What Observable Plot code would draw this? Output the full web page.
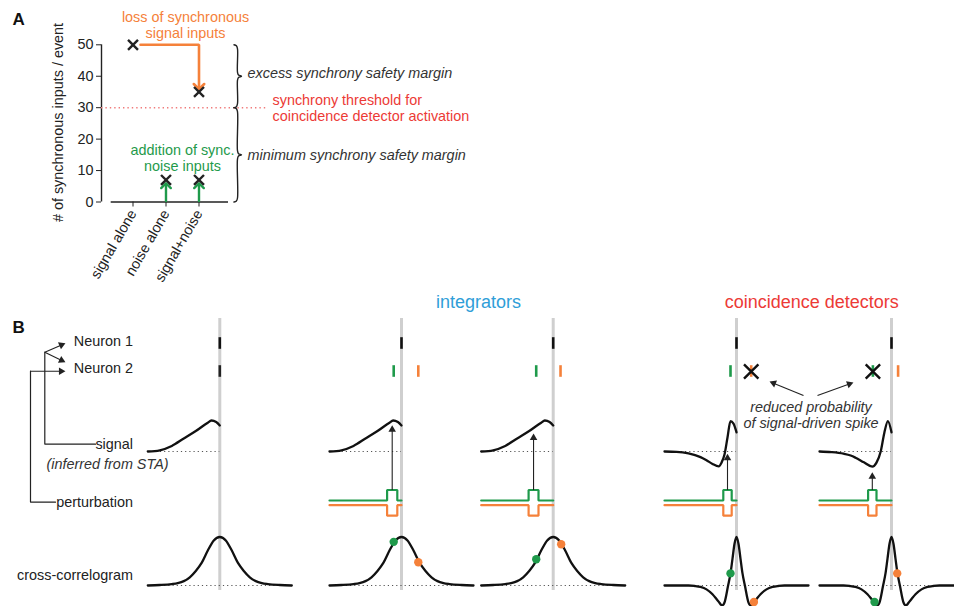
<!DOCTYPE html>
<html><head><meta charset="utf-8">
<script src="https://cdn.jsdelivr.net/npm/d3@7"></script>
<script src="https://cdn.jsdelivr.net/npm/@observablehq/plot@0.6"></script>
<style>
html,body{margin:0;padding:0;background:#fff;}
#fig{position:relative;width:954px;height:606px;overflow:hidden;background:#fff;}
#fig > svg{position:absolute;left:0;}
</style></head><body><div id="fig"></div>
<script>
// ================= DATA =================
// Panel A
const categories = ["signal alone", "noise alone", "signal+noise"];
const markerCategory = ["signal alone", "signal+noise", "noise alone", "signal+noise"];
const markerValue = [50, 35, 7, 7];
const yTicks = [0, 10, 20, 30, 40, 50];
const threshold = 30;
const lossStart = 50, lossEnd = 36.7;      // loss of synchronous signal inputs arrow
const noiseArrowTop = 5.2;                 // addition of sync. noise inputs arrows

// Panel B : lag (arbitrary time units) / normalized amplitude
const sigIntLag = [-12, -10, -8, -6, -4, -2, -1.4, -0.6, 0];
const sigIntAmp = [0, 0.04, 0.18, 0.42, 0.66, 0.93, 1.0, 0.95, 0.84];
const sigCd1Lag = [-12, -10, -8, -6, -5, -4, -2.95, -2.5, -2, -1.5, -1, -0.5, 0];
const sigCd1Amp = [0, -0.01, -0.06, -0.18, -0.28, -0.4, -0.48, -0.36, -0.1, 0.45, 0.98, 0.9, 0.62];
const sigCd2Lag = [-12, -10, -8, -6.8, -6, -4.6, -3.2, -2.5, -1.8, -1.2, -0.6, 0];
const sigCd2Amp = [0, -0.02, -0.07, -0.13, -0.2, -0.35, -0.49, -0.36, 0, 0.6, 0.98, 0.62];
const ccgIntLag = [-12, -10, -8, -7, -6, -5, -4, -3, -2, -1, 0, 1, 2, 3, 4, 5, 6, 7, 8, 10, 12];
const ccgIntAmp = [0, 0.01, 0.03, 0.05, 0.09, 0.17, 0.3, 0.47, 0.72, 0.93, 1, 0.93, 0.72, 0.47, 0.3, 0.17, 0.09, 0.05, 0.03, 0.01, 0];
const ccgCdLag = [-12, -8, -7, -6, -5, -4, -3, -2.4, -2, -1.4, -1, -0.67, -0.33, 0, 0.33, 0.67, 1, 1.4, 2, 2.4, 3, 4, 5, 6, 7, 8, 12];
const ccgCdAmp = [0, 0, -0.01, -0.03, -0.08, -0.18, -0.33, -0.41, -0.35, 0, 0.25, 0.55, 0.86, 1, 0.86, 0.55, 0.25, 0, -0.35, -0.41, -0.33, -0.18, -0.08, -0.03, -0.01, 0, 0];

const columnSignal = ["int", "int", "int", "cd1", "cd2"];
const columnCcg = ["int", "int", "int", "cd", "cd"];
// neuron-2 spikes per column: lag, type (ref / pos = with positive perturbation / neg), suppressed
const n2Col = [0, 1, 1, 2, 2, 3, 3, 4, 4];
const n2Lag = [0, -1.3, 2.8, -2.83, 1.22, -1.0, 2.45, -3.1, 1.1];
const n2Type = ["ref", "pos", "neg", "pos", "neg", "pos", "neg", "pos", "neg"];
const n2Suppressed = [false, false, false, false, false, false, true, true, false];
// perturbation pulses (columns 1..4)
const pulseCol = [1, 2, 3, 4];
const pulseStart = [-2.4, -4.1, -2.2, -3.9];
const pulseEnd = [-0.7, -2.45, -0.8, -2.5];
const pulseTipAmp = [0.85, 0.58, -0.07, -0.67];
// cross-correlogram dots
const dotCol = [1, 1, 2, 2, 3, 3, 4, 4];
const dotLag = [-1.3, 2.8, -2.83, 1.33, -1.0, 2.9, -2.83, 0.95];
const dotAmp = [0.9, 0.48, 0.54, 0.85, 0.25, -0.34, -0.34, 0.25];
const dotType = ["pos", "neg", "pos", "neg", "pos", "neg", "pos", "neg"];

// ================= STYLE =================
const FONT = '"Liberation Sans", Arial, Helvetica, sans-serif';
const INK = "#222222", TXT = "#333333";
const ORANGE = "#f5813a", GREEN = "#1f9a4b", RED = "#ec3a36", BLUE = "#2f9ed8", PINK = "#f07b7b";
const typeColor = {ref: INK, pos: GREEN, neg: ORANGE};
const fig = document.getElementById("fig");

// ================= PANEL A =================
const A = {width: 480, height: 290, left: 101, top: 44.3, bottom: 201.5, x0: 132.5, step: 33};
const xOf = px => (px - A.x0) / A.step;               // layout px -> category units
const yOf = py => (A.bottom - py) * 50 / (A.bottom - A.top); // layout px -> value units

function brace(ytPx, ybPx) {
  const xL = 233.5, xM = 237, xT = 241, ym = (ytPx + ybPx) / 2;
  return [[xL, ytPx], [xL + 2.4, ytPx + 1], [xM, ytPx + 4], [xM, ym - 4], [xM + 1, ym - 1.2], [xT, ym],
          [xM + 1, ym + 1.2], [xM, ym + 4], [xM, ybPx - 4], [xL + 2.4, ybPx - 1], [xL, ybPx]]
    .map(([x, y]) => ({x: xOf(x), y: yOf(y)}));
}
const yThrPx = A.bottom - threshold * (A.bottom - A.top) / 50;
const braceTop = brace(A.top, yThrPx);
const braceBot = brace(yThrPx, A.bottom);

const markers = markerCategory.map((c, i) => ({x: categories.indexOf(c), y: markerValue[i]}));
const iLoss = categories.indexOf("signal+noise");
const lossPath = [{x: xOf(140), y: lossStart}, {x: iLoss, y: lossStart}, {x: iLoss, y: lossEnd}];
const noiseArrows = ["noise alone", "signal+noise"].map(c => categories.indexOf(c));

const plotA = Plot.plot({
  width: A.width, height: A.height,
  marginLeft: A.left, marginRight: 0, marginTop: A.top, marginBottom: A.height - A.bottom,
  x: {domain: [xOf(A.left), xOf(A.width)], ticks: [0, 1, 2], tickFormat: i => categories[i],
      tickRotate: -60, tickSize: 5, tickPadding: 4, label: null},
  y: {domain: [0, 50], ticks: yTicks, tickSize: 5, tickPadding: 3, label: null},
  style: {fontFamily: FONT, fontSize: "14.4px", color: INK, background: "transparent", overflow: "visible"},
  marks: [
    Plot.ruleX([xOf(A.left)], {y1: 0, y2: 50, stroke: INK, strokeWidth: 1.4}),
    Plot.ruleY([0], {x1: xOf(110.7), x2: xOf(228), stroke: INK, strokeWidth: 1.4}),
    Plot.ruleY([threshold], {x1: xOf(A.left), x2: xOf(268), stroke: PINK, strokeWidth: 1.4, strokeDasharray: "1.4,3"}),
    Plot.line(braceTop, {x: "x", y: "y", curve: "catmull-rom", stroke: INK, strokeWidth: 1.4}),
    Plot.line(braceBot, {x: "x", y: "y", curve: "catmull-rom", stroke: INK, strokeWidth: 1.4}),
    Plot.line(lossPath, {x: "x", y: "y", stroke: ORANGE, strokeWidth: 2.6, strokeLinejoin: "miter", markerEnd: "arrow"}),
    ...noiseArrows.map(i => Plot.line([{x: i, y: 0.3}, {x: i, y: noiseArrowTop}], {x: "x", y: "y", stroke: GREEN, strokeWidth: 2.4, markerEnd: "arrow"})),
    Plot.dot(markers, {x: "x", y: "y", symbol: "times", r: 4.6, stroke: INK, strokeWidth: 2.4}),
    Plot.text(["A"], {x: xOf(12), y: yOf(19.5), textAnchor: "start", fontWeight: "bold", fontSize: 17, fill: "#111"}),
    Plot.text(["# of synchronous inputs / event"], {x: xOf(58), y: yOf(122), rotate: -90, fill: INK}),
    Plot.text(["loss of synchronous", "signal inputs"], {x: xOf(185), y: (d, i) => yOf(17 + 16 * i), fill: ORANGE}),
    Plot.text(["addition of sync.", "noise inputs"], {x: xOf(182), y: (d, i) => yOf(150 + 15.5 * i), fill: GREEN}),
    Plot.text(["excess synchrony safety margin"], {x: xOf(247), y: yOf(73), textAnchor: "start", fontStyle: "italic", fill: TXT}),
    Plot.text(["minimum synchrony safety margin"], {x: xOf(247), y: yOf(155), textAnchor: "start", fontStyle: "italic", fill: TXT}),
    Plot.text(["synchrony threshold for", "coincidence detector activation"], {x: xOf(272), y: (d, i) => yOf(100 + 16 * i), textAnchor: "start", fill: RED})
  ]
});
plotA.style.top = "0px";
fig.appendChild(plotA);

// ================= PANEL B =================
const B = {top: 290, width: 954, height: 316, lagPx: 6};
const bx = px => px / B.lagPx;    // layout px -> lag units
const by = py => py - B.top;      // layout px -> panel px
const colCenterPx = [219.3, 401, 552.7, 736, 891];
const colX = colCenterPx.map(bx);
const R = {n1: by(343), n2: by(371), half: 5.8, sig: by(451), sigGain: 31, pertG: by(500), pertO: by(504.7),
           pulseH: 10.5, ccg: by(585), ccgGain: 48.5, lineTop: by(318), lineBot: by(590)};

const sigShapes = {int: [sigIntLag, sigIntAmp], cd1: [sigCd1Lag, sigCd1Amp], cd2: [sigCd2Lag, sigCd2Amp]};
const ccgShapes = {int: [ccgIntLag, ccgIntAmp], cd: [ccgCdLag, ccgCdAmp]};
const sigRows = columnSignal.flatMap((s, c) => sigShapes[s][0].map((lag, i) => ({c, lag, amp: sigShapes[s][1][i]})));
const ccgRows = columnCcg.flatMap((s, c) => ccgShapes[s][0].map((lag, i) => ({c, lag, amp: ccgShapes[s][1][i]})));
const pertRows = pulseCol.flatMap((c, k) => {
  const lags = [-12, pulseStart[k], pulseStart[k], pulseEnd[k], pulseEnd[k], 0];
  const amps = [0, 0, 1, 1, 0, 0];
  return lags.map((lag, i) => ({c, lag, amp: amps[i]}));
});
const pulses = pulseCol.map((c, k) => ({c, lag: (pulseStart[k] + pulseEnd[k]) / 2, tip: pulseTipAmp[k]}));
const n2 = n2Col.map((c, i) => ({c, lag: n2Lag[i], type: n2Type[i], sup: n2Suppressed[i]}));
const dots = dotCol.map((c, i) => ({c, lag: dotLag[i], amp: dotAmp[i], type: dotType[i]}));
const cols = colX.map((x, c) => ({c}));
const X = d => colX[d.c] + d.lag;

// annotation arrows (layout px): connectors and "reduced probability" pointers
const arrowsPx = [[44.3, 351.7, 65, 342.7], [44.3, 351.7, 65, 361.7], [30, 370.7, 65, 370.7],
                  [803, 395, 769, 381], [817, 395, 853, 382]];
// pulse -> signal arrows in layout px
const pulseArrowsPx = pulses.map(d => [X(d) * B.lagPx, R.pertG - R.pulseH + B.top, X(d) * B.lagPx, R.sig - d.tip * R.sigGain + B.top]);
const allArrows = arrowsPx.concat(pulseArrowsPx);
const HEAD = 4.4; // tip to centroid distance of the triangle head
const heads = allArrows.map(([x1, y1, x2, y2]) => {
  const dx = x2 - x1, dy = y2 - y1, L = Math.hypot(dx, dy);
  return {x: bx(x2 - dx / L * HEAD), y: by(y2 - dy / L * HEAD), rot: Math.atan2(dx, -dy) * 180 / Math.PI};
});

const plotB = Plot.plot({
  width: B.width, height: B.height, margin: 0,
  x: {domain: [0, B.width / B.lagPx], range: [0, B.width], axis: null},
  y: {domain: [0, B.height], range: [0, B.height], axis: null},
  style: {fontFamily: FONT, fontSize: "14.4px", color: INK, background: "transparent", overflow: "visible"},
  marks: [
    Plot.ruleX(colX, {y1: R.lineTop, y2: R.lineBot, stroke: "#cfcfcf", strokeWidth: 3}),
    Plot.ruleY(cols, {x1: d => colX[d.c] - 12, x2: d => colX[d.c], y: () => R.sig, stroke: "#555", strokeWidth: 1, strokeDasharray: "1.2,3"}),
    Plot.ruleY(cols, {x1: d => colX[d.c] - 12, x2: d => colX[d.c] + 12, y: () => R.ccg, stroke: "#555", strokeWidth: 1, strokeDasharray: "1.2,3"}),
    Plot.line(sigRows, {x: X, y: d => R.sig - d.amp * R.sigGain, z: "c", curve: "monotone-x", stroke: "#111", strokeWidth: 2.3}),
    Plot.line(ccgRows, {x: X, y: d => R.ccg - d.amp * R.ccgGain, z: "c", curve: "monotone-x", stroke: "#111", strokeWidth: 2.3}),
    Plot.line(pertRows, {x: X, y: d => R.pertG - d.amp * R.pulseH, z: "c", stroke: GREEN, strokeWidth: 2.2, strokeLinejoin: "miter"}),
    Plot.line(pertRows, {x: X, y: d => R.pertO + d.amp * R.pulseH, z: "c", stroke: ORANGE, strokeWidth: 2.2, strokeLinejoin: "miter"}),
    Plot.ruleX(colX, {y1: R.n1 - R.half, y2: R.n1 + R.half, stroke: "#111", strokeWidth: 2.6}),
    Plot.ruleX(n2, {x: X, y1: R.n2 - R.half, y2: R.n2 + R.half, stroke: d => typeColor[d.type], strokeWidth: 2.6}),
    Plot.dot(n2.filter(d => d.sup), {x: X, y: () => R.n2, symbol: "times", r: 6.6, stroke: "#111", strokeWidth: 2.4}),
    Plot.dot(dots, {x: X, y: d => R.ccg - d.amp * R.ccgGain, r: 4.2, fill: d => typeColor[d.type]}),
    // headings
    Plot.text(["integrators"], {x: bx(478), y: by(302), fill: BLUE, fontSize: 18}),
    Plot.text(["coincidence detectors"], {x: bx(811.3), y: by(301.5), fill: RED, fontSize: 18}),
    Plot.text(["B"], {x: bx(12), y: by(327.5), textAnchor: "start", fontWeight: "bold", fontSize: 17, fill: "#111"}),
    // row labels
    Plot.text(["Neuron 1", "Neuron 2", "signal", "perturbation", "cross-correlogram"],
      {x: bx(132.5), y: (d, i) => by([340.5, 367.5, 443.5, 501.7, 575][i]), textAnchor: "end", fill: INK}),
    Plot.text(["(inferred from STA)"], {x: bx(46), y: by(463.5), textAnchor: "start", fontStyle: "italic", fill: TXT}),
    Plot.text(["reduced probability", "of signal-driven spike"], {x: d => bx(810.5), y: (d, i) => by(406.5 + 16.7 * i), fontStyle: "italic", fill: TXT}),
    // connectors and arrows
    Plot.line([[95, 443.7], [44.3, 443.7], [44.3, 351.7]], {x: d => bx(d[0]), y: d => by(d[1]), stroke: INK, strokeWidth: 1.2, strokeLinejoin: "miter"}),
    Plot.line([[55, 501.7], [30, 501.7], [30, 370.7]], {x: d => bx(d[0]), y: d => by(d[1]), stroke: INK, strokeWidth: 1.2, strokeLinejoin: "miter"}),
    Plot.link(allArrows, {x1: d => bx(d[0]), y1: d => by(d[1]), x2: d => bx(d[2] - (d[2] - d[0]) / Math.hypot(d[2] - d[0], d[3] - d[1]) * 3),
      y2: d => by(d[3] - (d[3] - d[1]) / Math.hypot(d[2] - d[0], d[3] - d[1]) * 3), stroke: INK, strokeWidth: 1.1}),
    Plot.dot(heads, {x: "x", y: "y", rotate: "rot", symbol: "triangle", r: 2.8, fill: INK, stroke: "none"})
  ]
});
plotB.style.top = B.top + "px";
fig.appendChild(plotB);
</script></body></html>
